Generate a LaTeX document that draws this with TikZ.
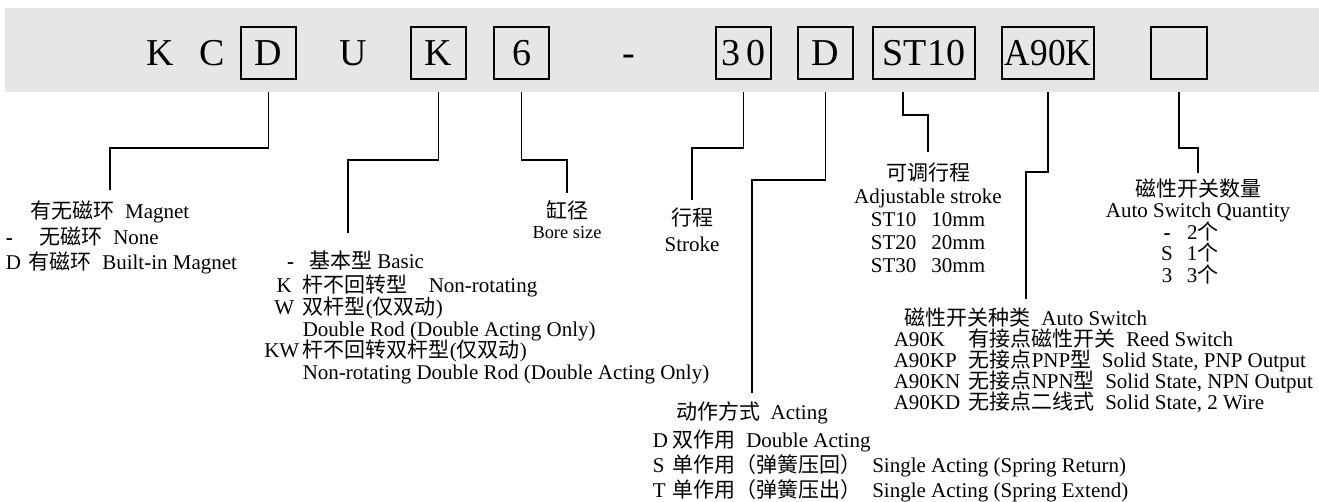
\documentclass[tikz,border=0pt]{standalone}
\usepackage{fontspec}
\setmainfont{Liberation Serif}
\newfontfamily\cjkfont{Noto Sans CJK SC}
\newcommand\zh[1]{{\cjkfont #1}}
\newcommand\bodysize[1]{\fontsize{10.5}{#1}\selectfont\lineskiplimit=-20pt\relax}
\definecolor{bandgray}{RGB}{230,230,230}

\begin{document}
\begin{tikzpicture}[x=0.5pt,y=-0.5pt,line width=0.8pt,
hd/.style={font=\fontsize{19}{19}\selectfont,text height=12.6pt,text depth=0pt,inner sep=0pt},
codebox/.style={hd,draw,minimum height=26pt},
ttl/.style={align=center,anchor=north,inner xsep=0pt,font=\bodysize{12}},
opts/.style={align=left,anchor=north west,inner sep=0pt}]

\useasboundingbox (0,0) rectangle (1319,502);
\fill[bandgray] (5,8) rectangle (1319,92);
\coordinate (bandbot) at (0,92);

% order code
\draw (160,53) node[hd] (cK) {K};
\draw (212,53) node[hd] (cC) {C};
\draw (268.5,53) node[codebox,minimum width=27.5pt] (hD) {D};
\draw (353,53) node[hd] (cU) {U};
\draw (438.5,53) node[codebox,minimum width=27.5pt] (hK) {K};
\draw (521.5,53) node[codebox,minimum width=27.5pt] (h6) {6};
\draw (629,53) node[hd] (cdash) {-};
\draw (743.5,53) node[codebox,minimum width=27.5pt] (h30) {3\hspace{3pt}0};
\draw (825.5,53) node[codebox,minimum width=27.5pt] (hAct) {D};
\draw (924,53) node[codebox,minimum width=51pt] (hST) {ST10};
\draw (1048,53) node[codebox,minimum width=46pt] (hSw) {\scalebox{0.93}[1]{A90K}};
\draw (1179,53) node[codebox,minimum width=28pt] (hQty) {};

% magnet
\draw (110,190) node[ttl,inner ysep=5pt] (magnet) {\zh{有无磁环}\ \ Magnet};
\draw (5,226) node[opts,font=\bodysize{12.75}] (magopts) {\makebox[17pt][l]{\textbf{-}}\zh{无磁环}\ \ None\\
\makebox[11.5pt][l]{D}\zh{有磁环}\ \ Built-in Magnet};

% rod type
\draw (348,233) node[ttl,inner ysep=8.5pt] (rodbasic) {\makebox[18.5pt]{\textbf{-}}\zh{基本型} Basic};
\draw (265,274) node[opts,font=\bodysize{10.9}] (rodopts) {\makebox[18.5pt]{K}\zh{杆不回转型}\quad Non-rotating\\
\makebox[18.5pt]{W}\zh{双杆型}(\zh{仅双动})\\
\hspace*{18.5pt}Double Rod (Double Acting Only)\\
\makebox[18.5pt]{KW\hspace{2.5pt}}\zh{杆不回转双杆型}(\zh{仅双动})\\
\hspace*{18.5pt}Non-rotating Double Rod (Double Acting Only)};

% bore, stroke
\draw (567,193) node[ttl,inner ysep=3.5pt,font=\bodysize{10}] (bore) {\zh{缸径}\\{\fontsize{9.2}{10}\selectfont Bore size}};
\draw (692,200) node[ttl,inner ysep=3.5pt,font=\bodysize{13}] (stroke) {\zh{行程}\\Stroke};

% acting
\draw (752,393) node[ttl,inner ysep=4pt] (acting) {\zh{动作方式}\ \ Acting};
\draw (652,429) node[opts,font=\bodysize{12.5}] (actopts) {\makebox[10pt][l]{D}\zh{双作用}\ \ Double Acting\\
\makebox[10pt][l]{S}\zh{单作用（弹簧压回）}\ \ Single Acting (Spring Return)\\
\makebox[10pt][l]{T}\zh{单作用（弹簧压出）}\ \ Single Acting (Spring Extend)};

% adjustable stroke
\draw (928,152) node[ttl,inner ysep=5pt,font=\bodysize{11.5}] (adjust) {\zh{可调行程}\\Adjustable stroke\\
ST10\hspace{7.5pt}10mm\\ST20\hspace{7.5pt}20mm\\ST30\hspace{7.5pt}30mm};

% auto switch
\draw (1026,299) node[ttl,inner ysep=4pt] (autosw) {\zh{磁性开关种类}\ \ Auto Switch};
\draw (893,328) node[opts,font=\bodysize{10.5}] (autoopts) {\makebox[37.5pt][l]{A90K}\zh{有接点磁性开关}\ \ Reed Switch\\
\makebox[37.5pt][l]{A90KP}\zh{无接点}PNP\zh{型}\ \ Solid State, PNP Output\\
\makebox[37.5pt][l]{A90KN}\zh{无接点}NPN\zh{型}\ \ Solid State, NPN Output\\
\makebox[37.5pt][l]{A90KD}\zh{无接点二线式}\ \ Solid State, 2 Wire};

% switch quantity
\draw (1198,173) node[ttl,inner ysep=2.5pt,font=\bodysize{10.75}] (qty) {\zh{磁性开关数量}\\Auto Switch Quantity\\
\makebox[40pt][l]{\makebox[9pt]{\textbf{-}}\hspace{5.5pt}2\zh{个}}\\
\makebox[40pt][l]{\makebox[9pt]{S}\hspace{5.5pt}1\zh{个}}\\
\makebox[40pt][l]{\makebox[9pt]{3}\hspace{5.5pt}3\zh{个}}};

% leaders
\draw (hD.south |- bandbot) -- ++(0,56) -| (magnet.north);
\draw (hK.south |- bandbot) -- ++(0,68) -| (rodbasic.north);
\draw (h6.south |- bandbot) -- ++(0,68) -| (bore.north);
\draw (h30.south |- bandbot) -- ++(0,56) -| (stroke.north);
\draw (hAct.south |- bandbot) -- ++(0,88) -| (acting.north);
\draw ([xshift=-10.5pt]hST.south |- bandbot) -- ++(0,23) -| (adjust.north);
\draw (hSw.south |- bandbot) -- ++(0,80) -| (autosw.north);
\draw (hQty.south |- bandbot) -- ++(0,56) -| (qty.north);
\end{tikzpicture}
\end{document}
